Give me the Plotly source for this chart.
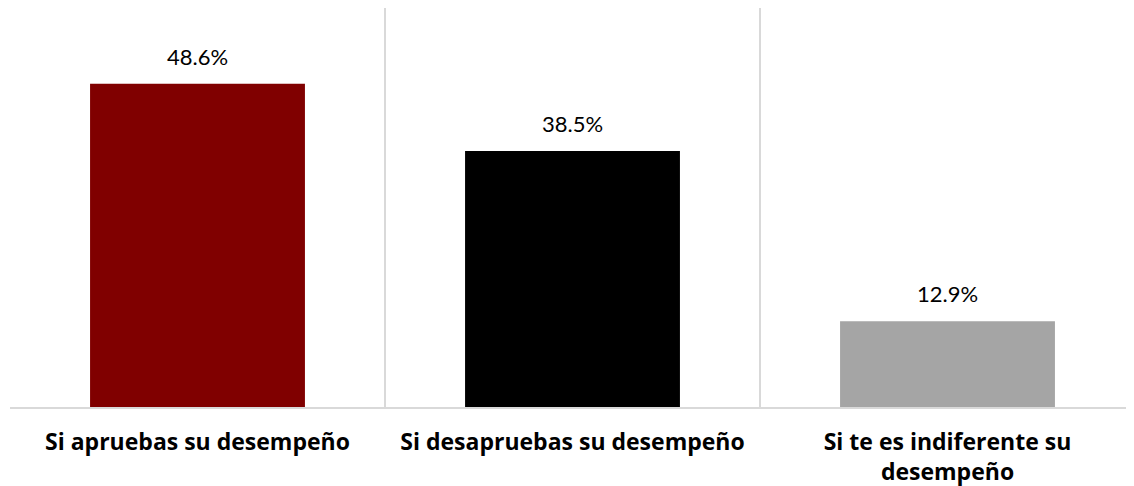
import plotly.graph_objects as go

categories = ["Si apruebas su desempeño", "Si desapruebas su desempeño", "Si te es indiferente su<br>desempeño"]
values = [48.6, 38.5, 12.9]
labels = ["48.6%", "38.5%", "12.9%"]
colors = ["#800000", "#000000", "#a5a5a5"]

fig = go.Figure()
fig.add_trace(go.Bar(
    x=categories, y=values, marker=dict(color=colors, line=dict(width=0)),
    width=0.573, hoverinfo="skip",
))
for c, v, t in zip(categories, values, labels):
    fig.add_annotation(x=c, y=v, text=t, showarrow=False, yanchor="bottom", yshift=12,
                       font=dict(family="Lato, Open Sans, sans-serif", size=22, color="#000000"))

fig.update_layout(
    width=1134, height=486,
    margin=dict(l=2, r=7, t=0, b=87),
    paper_bgcolor="white", plot_bgcolor="white",
    showlegend=False,
    font=dict(family="Open Sans, sans-serif", color="#000000"),
)
fig.update_xaxes(
    tickson="boundaries", showgrid=True, gridcolor="#d9d9d9", gridwidth=1.5,
    showline=True, linecolor="#d9d9d9", linewidth=1.5,
    ticks="", ticklabelstandoff=14,
    tickfont=dict(family="Open Sans, sans-serif", size=23, color="#000000", weight="bold"),
    range=[-0.5, 2.5],
)
fig.update_yaxes(range=[0, 60], showgrid=False, showticklabels=False, zeroline=False, showline=False)

fig.write_html("out.html")
